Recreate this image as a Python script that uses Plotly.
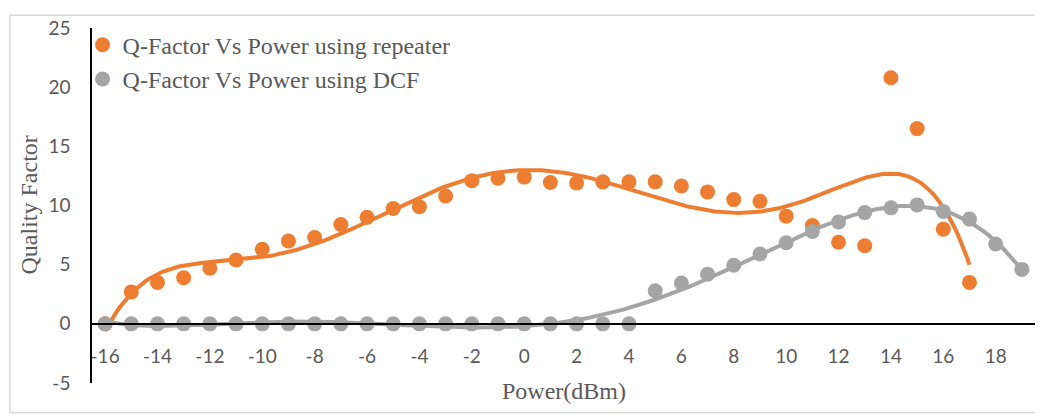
import numpy as np
import plotly.graph_objects as go

power_rep = list(range(-16, 18))
q_rep = [0, 2.7, 3.5, 3.9, 4.7, 5.4, 6.3, 7.0, 7.3, 8.4, 9.0, 9.75, 9.9, 10.8, 12.1, 12.3,
         12.4, 11.95, 11.9, 12.0, 12.0, 12.0, 11.65, 11.15, 10.5, 10.35, 9.1, 8.3, 6.9, 6.6,
         20.8, 16.5, 8.0, 3.5]
power_dcf = list(range(-16, 20))
q_dcf = [0] * 21 + [2.8, 3.45, 4.2, 4.95, 5.9, 6.85, 7.8, 8.6, 9.4, 9.8, 10.05, 9.5, 8.85, 6.75, 4.6]
x_ticks = list(range(-16, 20, 2))
y_ticks = list(range(-5, 30, 5))

ORANGE = "#ED7D31"
GRAY = "#A5A5A5"
TXT = "#595959"
SERIF = "Liberation Serif"


def trend(x, y, deg=6):
    # excel style polynomial trendline
    p = np.polynomial.Polynomial.fit(x, y, deg)
    xs = np.linspace(min(x), max(x), 300)
    return xs, p(xs)


fig = go.Figure()
tx, ty = trend(power_rep, q_rep)
fig.add_trace(go.Scatter(x=tx, y=ty, mode="lines", line=dict(color=ORANGE, width=4), showlegend=False))
fig.add_trace(go.Scatter(x=power_rep, y=q_rep, mode="markers", name="Q-Factor Vs Power using repeater",
                         marker=dict(color=ORANGE, size=15)))
tx, ty = trend(power_dcf, q_dcf)
fig.add_trace(go.Scatter(x=tx, y=ty, mode="lines", line=dict(color=GRAY, width=4), showlegend=False))
fig.add_trace(go.Scatter(x=power_dcf, y=q_dcf, mode="markers", name="Q-Factor Vs Power using DCF",
                         marker=dict(color=GRAY, size=15)))

# page body adds 8px offset, so figure is sized 8px smaller
fig.update_layout(
    width=1035, height=406,
    margin=dict(l=84, r=8, t=14, b=31),
    plot_bgcolor="white", paper_bgcolor="white",
    font=dict(family="Lato", size=19, color=TXT),
    legend=dict(x=-0.01, y=1.015, xanchor="left", yanchor="top", bgcolor="rgba(0,0,0,0)",
                font=dict(family=SERIF, size=24, color=TXT),
                itemwidth=30, tracegroupgap=0),
    xaxis=dict(range=[-16.5, 19.5], tickvals=x_ticks, ticktext=[str(v) for v in x_ticks],
               showgrid=False, zeroline=False,
               showline=True, linecolor="black", linewidth=1.5, anchor="free", position=5 / 30,
               ticks="outside", ticklen=16, tickcolor="rgba(0,0,0,0)"),
    yaxis=dict(range=[-5, 25], tickvals=y_ticks, ticktext=[str(v) for v in y_ticks],
               showgrid=False, zeroline=False,
               showline=True, linecolor="black", linewidth=1.5,
               ticks="outside", ticklen=16, tickcolor="rgba(0,0,0,0)"),
    annotations=[
        dict(text="Power(dBm)", xref="paper", yref="paper", x=0.5, y=0, yanchor="middle", yshift=-8,
             showarrow=False, font=dict(family=SERIF, size=24, color=TXT)),
        dict(text="Quality Factor", xref="paper", yref="paper", x=0, y=0.5, xanchor="center",
             xshift=-64, textangle=-90,
             showarrow=False, font=dict(family=SERIF, size=24, color=TXT)),
    ],
    shapes=[dict(type="rect", xref="paper", yref="paper", x0=-0.087, x1=1.0074, y0=-0.083, y1=1.036,
                 line=dict(color="#D9D9D9", width=1.5))],
)

fig.write_html("out.html")
